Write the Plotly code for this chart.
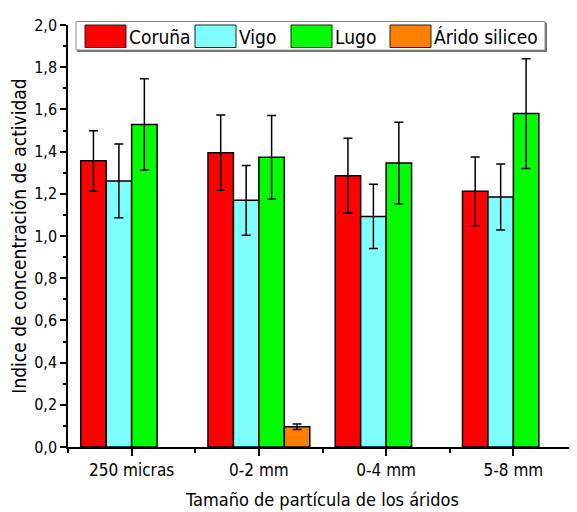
import plotly.graph_objects as go

categories = ["250 micras", "0-2 mm", "0-4 mm", "5-8 mm"]
series_names = ["Coruña", "Vigo", "Lugo", "Árido siliceo"]
coruna = [1.357, 1.395, 1.286, 1.212]
coruna_err = [0.142, 0.178, 0.177, 0.163]
vigo = [1.261, 1.169, 1.093, 1.185]
vigo_err = [0.175, 0.165, 0.152, 0.156]
lugo = [1.529, 1.373, 1.346, 1.580]
lugo_err = [0.216, 0.198, 0.193, 0.260]
arido_cats = ["0-2 mm"]
arido = [0.096]
arido_err = [0.0125]
colors = ["#FF0000", "#80FFFF", "#00FF00", "#FF8000"]
y_ticks = [0.0, 0.2, 0.4, 0.6, 0.8, 1.0, 1.2, 1.4, 1.6, 1.8, 2.0]

FONT = "DejaVu Sans Condensed, Liberation Sans Narrow, Arial Narrow, sans-serif"
OFF = 8  # page body margin
W, H = 577 - OFF, 512 - OFF
ML, MR, MT, MB = 68 - OFF, 0, 25 - OFF, 65
PW = W - ML - MR
PH = H - MT - MB

pos = {c: i for i, c in enumerate(categories)}
data = [
    (series_names[0], categories, coruna, coruna_err),
    (series_names[1], categories, vigo, vigo_err),
    (series_names[2], categories, lugo, lugo_err),
    (series_names[3], arido_cats, arido, arido_err),
]

fig = go.Figure()
for (name, cats, vals, errs), col in zip(data, colors):
    fig.add_trace(go.Bar(
        name=name,
        x=[pos[c] for c in cats],
        y=vals,
        marker=dict(color=col, line=dict(color="black", width=1.5)),
        error_y=dict(type="data", array=errs, visible=True,
                     color="black", thickness=1.5, width=4.5),
        showlegend=False,
    ))


def px_x(p):
    return (p - OFF - ML) / PW


def px_y(p):
    return (OFF + H - MB - p) / PH


shapes = []
annotations = []
# legend box with shadow
shapes.append(dict(type="rect", xref="paper", yref="paper",
                   x0=px_x(77.5), x1=px_x(546.5), y0=px_y(23), y1=px_y(51.5),
                   line=dict(color="#707070", width=1), fillcolor="#707070", layer="above"))
shapes.append(dict(type="rect", xref="paper", yref="paper",
                   x0=px_x(76), x1=px_x(545), y0=px_y(21.5), y1=px_y(50),
                   line=dict(color="#909090", width=1), fillcolor="white", layer="above"))
swatch_x = [85, 195, 291, 390]
for name, col, sx in zip(series_names, colors, swatch_x):
    shapes.append(dict(type="rect", xref="paper", yref="paper",
                       x0=px_x(sx), x1=px_x(sx + 41), y0=px_y(25), y1=px_y(47.5),
                       line=dict(color="#202020", width=1), fillcolor=col, layer="above"))
    annotations.append(dict(xref="paper", yref="paper", x=px_x(sx + 42), y=px_y(36.5),
                            text=name, showarrow=False, xanchor="left", yanchor="middle",
                            font=dict(family=FONT, size=19, color="black")))

fig.update_layout(
    width=W, height=H,
    margin=dict(l=ML, r=MR, t=MT, b=MB, autoexpand=False),
    plot_bgcolor="white", paper_bgcolor="white",
    barmode="group", bargap=0.2, bargroupgap=0,
    separators=",.",
    font=dict(family=FONT, color="black"),
    shapes=shapes, annotations=annotations,
    showlegend=False,
)
fig.update_xaxes(
    range=[-0.5, 3.5], automargin=False,
    tickmode="array", tickvals=list(range(len(categories))), ticktext=categories,
    ticks="outside", ticklen=7, tickwidth=1.5, tickcolor="black",
    minor=dict(tickmode="array", tickvals=[-0.5, 0.5, 1.5, 2.5, 3.5],
               ticks="outside", ticklen=4, tickwidth=1.5, tickcolor="black"),
    showline=True, linecolor="black", linewidth=1.5,
    showgrid=False, zeroline=False,
    tickfont=dict(family=FONT, size=17),
    title=dict(text="Tamaño de partícula de los áridos", font=dict(family=FONT, size=18), standoff=14),
)
fig.update_yaxes(
    range=[0, 2], automargin=False,
    tickmode="array", tickvals=y_ticks, tickformat=".1f",
    ticks="outside", ticklen=6, tickwidth=1.5, tickcolor="black",
    minor=dict(dtick=0.1, ticks="outside", ticklen=3, tickwidth=1.5, tickcolor="black"),
    showline=True, linecolor="black", linewidth=1.5,
    showgrid=False, zeroline=False,
    tickfont=dict(family=FONT, size=16),
    title=dict(text="Indice de concentración de actividad", font=dict(family=FONT, size=19), standoff=4),
)

fig.write_html("out.html")
